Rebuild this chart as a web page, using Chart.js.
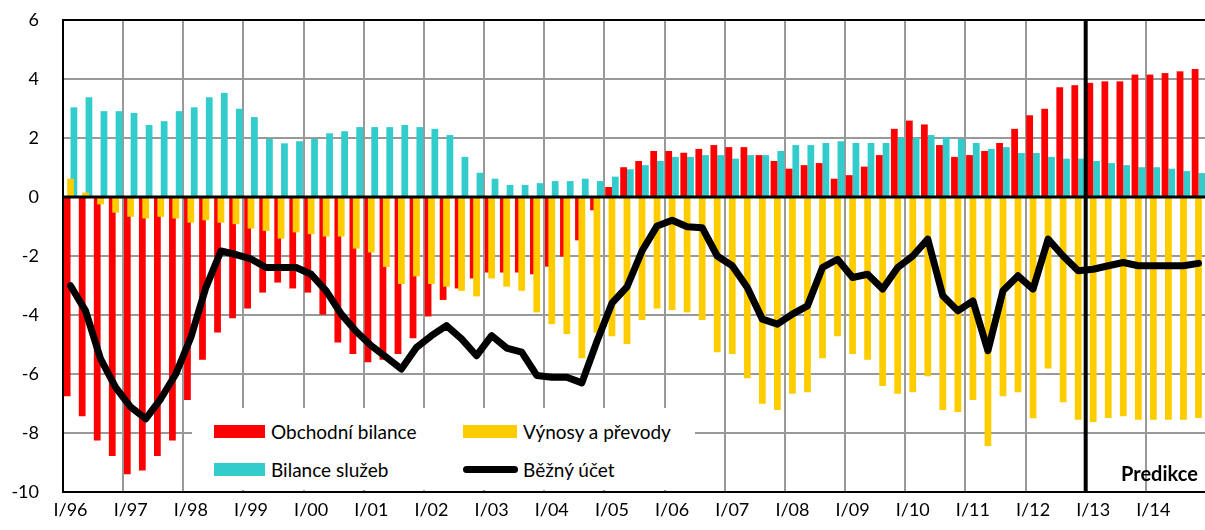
<!DOCTYPE html>
<html>
<head>
<meta charset="utf-8">
<script src="https://cdn.jsdelivr.net/npm/chart.js@4.4.1/dist/chart.umd.min.js"></script>
<style>
  body { margin: 0; overflow: hidden; background: #fff; font-family: Lato, sans-serif; }
  #wrap { position: relative; width: 1210px; height: 530px; }
  .txt { position: absolute; font-size: 19px; color: #000; line-height: 20px; white-space: nowrap; }
  .sw { position: absolute; }
</style>
</head>
<body>
<div id="wrap">
  <canvas id="myChart"></canvas>
  <!-- legenda uvnitř grafu -->
  <div style="position:absolute; left:192px; top:408px; width:503px; height:82px; background:#fff;"></div>
  <div class="sw" style="left:214px; top:425px; width:51px; height:13px; background:#ff0000;"></div>
  <div class="txt" style="left:271px; top:422px;">Obchodní bilance</div>
  <div class="sw" style="left:214px; top:463px; width:51px; height:13px; background:#33cccc;"></div>
  <div class="txt" style="left:271px; top:460px;">Bilance služeb</div>
  <div class="sw" style="left:463px; top:425px; width:54px; height:13px; background:#ffcc00;"></div>
  <div class="txt" style="left:523px; top:422px;">Výnosy a převody</div>
  <div class="sw" style="left:463px; top:466px; width:55px; height:7px; background:#000; border-radius:4px;"></div>
  <div class="txt" style="left:523px; top:460px;">Běžný účet</div>
  <div class="txt" style="left:1121px; top:463px; font-weight:bold; font-size:20px;">Predikce</div>
</div>
<script>
// roky a čtvrtletí
var years = ['96','97','98','99','00','01','02','03','04','05','06','07','08','09','10','11','12','13','14'];
var quarterNames = ['I', 'II', 'III', 'IV'];
var labels = [];
years.forEach(function(y) {
  quarterNames.forEach(function(q) { labels.push(q + '/' + y); });
});

// Obchodní bilance
var obchodni = [
  -6.75, -7.43, -8.25, -8.78, -9.40, -9.27, -8.78, -8.25, -6.88, -5.52,
  -4.59, -4.11, -3.78, -3.24, -2.90, -3.10, -3.24, -3.99, -4.93, -5.32,
  -5.60, -5.52, -5.32, -4.79, -4.05, -3.49, -3.10, -2.76, -2.56, -2.56,
  -2.56, -2.62, -2.36, -2.02, -1.47, -0.45, 0.34, 1.01, 1.22, 1.56,
  1.56, 1.50, 1.63, 1.76, 1.69, 1.69, 1.42, 1.22, 0.96, 1.08,
  1.15, 0.62, 0.74, 1.03, 1.42, 2.31, 2.59, 2.46, 1.76, 1.36,
  1.42, 1.56, 1.83, 2.31, 2.77, 2.99, 3.72, 3.79, 3.87, 3.92,
  3.92, 4.15, 4.15, 4.20, 4.26, 4.34
];

// Výnosy a převody
var vynosy = [
  0.62, 0.15, -0.25, -0.53, -0.67, -0.73, -0.67, -0.73, -0.87, -0.79,
  -0.87, -0.92, -1.07, -1.15, -1.41, -1.20, -1.26, -1.34, -1.34, -1.75,
  -1.88, -2.37, -2.95, -2.69, -2.95, -3.04, -3.18, -3.37, -2.76, -3.04,
  -3.18, -3.91, -4.31, -4.64, -5.47, -4.60, -4.72, -4.98, -4.17, -3.78,
  -3.83, -3.91, -4.17, -5.26, -5.32, -6.14, -7.01, -7.22, -6.67, -6.62,
  -5.47, -4.72, -5.32, -5.52, -6.41, -6.67, -6.62, -6.08, -7.22, -7.29,
  -6.88, -8.44, -6.75, -6.62, -7.50, -5.81, -6.96, -7.55, -7.63, -7.49,
  -7.43, -7.55, -7.55, -7.55, -7.55, -7.49
];

// Bilance služeb
var sluzby = [
  3.04, 3.38, 2.91, 2.91, 2.85, 2.44, 2.57, 2.91, 3.04, 3.38,
  3.53, 2.99, 2.71, 1.97, 1.82, 1.89, 1.97, 2.16, 2.23, 2.37,
  2.37, 2.37, 2.44, 2.37, 2.31, 2.10, 1.36, 0.82, 0.62, 0.41,
  0.41, 0.47, 0.54, 0.54, 0.62, 0.54, 0.69, 0.94, 1.08, 1.22,
  1.36, 1.36, 1.42, 1.42, 1.30, 1.42, 1.42, 1.56, 1.76, 1.76,
  1.83, 1.89, 1.83, 1.83, 1.83, 2.01, 2.01, 2.10, 2.03, 1.97,
  1.83, 1.63, 1.69, 1.49, 1.49, 1.36, 1.30, 1.30, 1.22, 1.15,
  1.08, 1.01, 1.01, 0.96, 0.88, 0.81
];

// Běžný účet
var bezny = [
  -3.01, -3.86, -5.49, -6.45, -7.12, -7.52, -6.84, -6.00, -4.76, -3.07,
  -1.83, -1.95, -2.10, -2.39, -2.39, -2.39, -2.62, -3.18, -3.97, -4.56,
  -5.04, -5.43, -5.83, -5.10, -4.70, -4.36, -4.81, -5.38, -4.70, -5.12,
  -5.26, -6.05, -6.11, -6.11, -6.30, -4.90, -3.60, -3.05, -1.83, -0.98,
  -0.79, -1.01, -1.04, -2.00, -2.33, -3.07, -4.14, -4.31, -3.97, -3.69,
  -2.39, -2.11, -2.73, -2.62, -3.12, -2.39, -2.00, -1.43, -3.35, -3.86,
  -3.52, -5.21, -3.18, -2.67, -3.12, -1.43, -2.00, -2.50, -2.45, -2.33,
  -2.22, -2.33, -2.33, -2.33, -2.33, -2.25
];

var predikceOd = 'I/13';

// rámeček, nulová osa a čára predikce
var framePlugin = {
  id: 'frame',
  afterDatasetsDraw: function(chart) {
    var c = chart.ctx, a = chart.chartArea;
    var xs = chart.scales.x, ys = chart.scales.y;
    c.save();
    c.strokeStyle = '#000';
    // nulová osa
    var y0 = ys.getPixelForValue(0);
    c.lineWidth = 3;
    c.beginPath(); c.moveTo(a.left, y0); c.lineTo(a.right, y0); c.stroke();
    // začátek predikce
    var idx = labels.indexOf(predikceOd);
    var xp = (xs.getPixelForValue(idx - 1) + xs.getPixelForValue(idx)) / 2;
    c.lineWidth = 4;
    c.beginPath(); c.moveTo(xp, a.top); c.lineTo(xp, a.bottom); c.stroke();
    // rámeček
    c.lineWidth = 2;
    c.strokeRect(a.left, a.top, a.right - a.left, a.bottom - a.top);
    c.restore();
  }
};

Chart.defaults.font.family = 'Lato, sans-serif';
Chart.defaults.font.size = 18;
Chart.defaults.color = '#000';

var ctx = document.getElementById('myChart').getContext('2d');
var myChart = new Chart(ctx, {
  type: 'bar',
  data: {
    labels: labels,
    datasets: [
      {
        type: 'line',
        label: 'Běžný účet',
        data: bezny,
        borderColor: '#000',
        borderWidth: 7,
        pointRadius: 0,
        tension: 0,
        borderJoinStyle: 'round',
        borderCapStyle: 'round',
        order: -1
      },
      {
        label: 'Výnosy a převody',
        data: vynosy,
        backgroundColor: '#ffcc00',
        grouped: false,
        barPercentage: 0.45,
        categoryPercentage: 1,
        order: 0
      },
      {
        label: 'Obchodní bilance',
        data: obchodni,
        backgroundColor: '#ff0000',
        barPercentage: 1,
        categoryPercentage: 0.9,
        order: 1
      },
      {
        label: 'Bilance služeb',
        data: sluzby,
        backgroundColor: '#33cccc',
        barPercentage: 1,
        categoryPercentage: 0.9,
        order: 2
      }
    ]
  },
  options: {
    responsive: true,
    maintainAspectRatio: false,
    animation: false,
    layout: { padding: { top: 20, right: 4, left: 0, bottom: 0 } },
    plugins: {
      legend: { display: false },
      tooltip: { enabled: false }
    },
    scales: {
      x: {
        offset: true,
        grid: {
          offset: true,
          drawTicks: false,
          color: function(c) { return (c.index !== undefined && c.index % 4 === 0) ? '#999999' : 'rgba(0,0,0,0)'; },
          lineWidth: 2
        },
        border: { display: false },
        ticks: {
          autoSkip: false,
          maxRotation: 0,
          padding: 7,
          callback: function(v, i) { return i % 4 === 0 ? labels[i] : ''; }
        },
        afterFit: function(s) { s.height = 38; }
      },
      y: {
        min: -10,
        max: 6,
        ticks: { stepSize: 2, padding: 0 },
        grid: { drawTicks: true, tickLength: 24, tickColor: 'rgba(0,0,0,0)', color: '#999999', lineWidth: 2 },
        border: { display: false },
        afterFit: function(s) { s.width = 63; }
      }
    }
  },
  plugins: [framePlugin]
});
</script>
</body>
</html>
